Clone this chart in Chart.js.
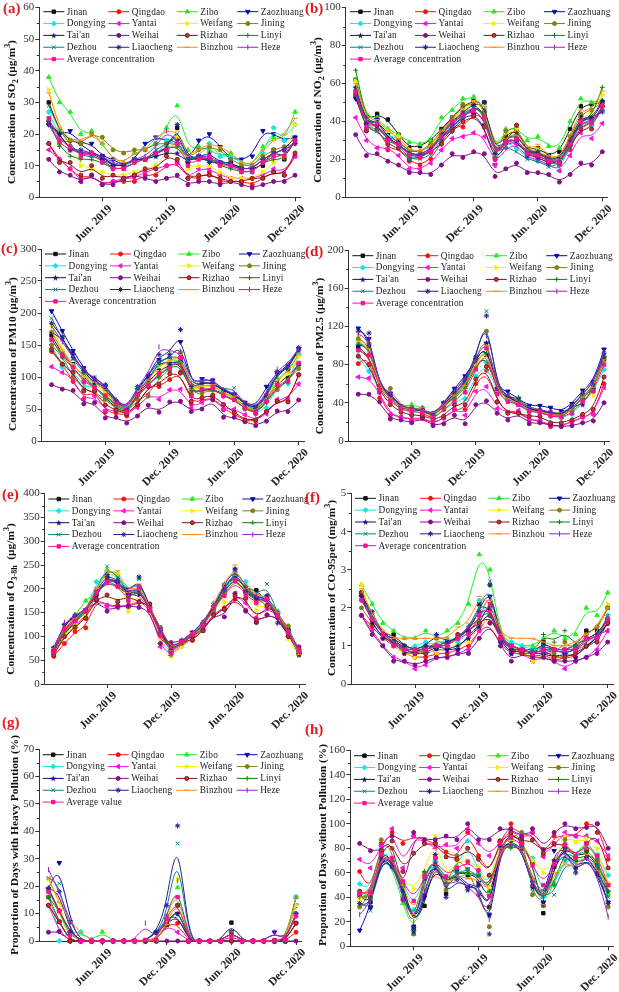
<!DOCTYPE html>
<html>
<head>
<meta charset="utf-8">
<title>Shandong air quality</title>
<script src="https://cdn.jsdelivr.net/npm/chart.js@4/dist/chart.umd.js"></script>
<style>
  html, body { margin: 0; padding: 0; background: #fff; }
  /* the reference is a soft, upscaled scan */
  #page { position: relative; width: 619px; height: 992px; overflow: hidden; background: #fff; filter: blur(0.35px); }
  canvas { position: absolute; }
  .ytitle, .letter { position: absolute; white-space: nowrap; font-family: "Liberation Serif", serif; }
  .ytitle { font-weight: bold; font-size: 11.4px; color: #111; transform: translate(-50%, -50%) rotate(-90deg); }
  .ytitle sub, .ytitle sup { font-size: 70%; line-height: 0; }
  .letter { color: #e8191c; font-size: 15px; font-weight: bold; transform: translateY(-50%); }
</style>
</head>
<body>
<div id="page"></div>
<script>
const cities = ["Jinan","Qingdao","Zibo","Zaozhuang","Dongying","Yantai","Weifang","Jining","Tai'an","Weihai","Rizhao","Linyi","Dezhou","Liaocheng","Binzhou","Heze"];
const tickLabels = {5:"Jun. 2019", 11:"Dec. 2019", 17:"Jun. 2020", 23:"Dec. 2020"};
const months = [0,1,2,3,4,5,6,7,8,9,10,11,12,13,14,15,16,17,18,19,20,21,22,23];

// (a) SO2
const so2Jinan=[30,21,18,17,14,13,10,10,12,12,14,15,22,11,13,12,11,11,9,9,10,15,12,18];
const so2Qingdao=[17,12,9,6,7,4,5,5,5,7,7,10,11,6,6,8,5,5,5,4,6,8,7,13];
const so2Zibo=[38,30,27,20,21,17,12,11,14,15,17,22,29,15,16,15,13,14,11,10,16,19,18,27];
const so2Zaozhuang=[23,20,21,17,17,13,12,10,12,17,19,18,18,11,18,20,16,12,12,13,21,20,18,19];
const so2Dongying=[27,19,16,14,13,12,9,9,12,12,13,18,17,12,13,17,13,13,11,9,14,22,18,23];
const so2Yantai=[15,12,9,5,7,4,5,6,6,8,9,10,11,6,9,9,7,6,6,6,7,9,8,13];
const so2Weifang=[34,21,16,10,9,8,7,7,8,9,10,14,19,9,10,10,8,6,6,6,8,11,13,23];
const so2Jining=[24,17,18,17,20,19,15,14,15,15,17,17,17,12,15,16,15,12,10,10,13,15,16,17];
const so2Taian=[24,20,15,14,14,13,10,10,12,12,13,14,14,11,13,14,11,11,9,9,12,14,15,19];
const so2Weihai=[12,8,7,5,7,4,4,6,7,6,5,6,7,4,5,5,4,5,4,3,4,5,5,7];
const so2Rizhao=[17,11,11,7,10,6,7,6,7,9,9,13,12,6,7,7,6,5,5,6,6,8,7,14];
const so2Linyi=[24,16,13,12,12,11,9,9,11,12,14,16,16,12,12,12,10,9,8,8,11,12,12,18];
const so2Dezhou=[29,21,17,13,13,12,9,9,11,12,15,17,20,12,12,12,11,11,8,8,11,13,13,18];
const so2Liaocheng=[23,20,15,15,14,12,10,10,12,12,14,15,23,12,13,11,11,10,9,9,12,14,15,17];
const so2Binzhou=[33,22,18,18,20,17,12,11,14,15,19,21,21,13,15,17,16,14,11,10,15,18,20,25];
const so2Heze=[23,17,15,14,14,13,11,10,12,13,16,21,18,12,13,13,11,10,9,9,12,14,15,17];
const so2Average=[25,18,16,13,14,11,9,9,11,12,14,15,17,10,12,13,10,10,8,8,11,13,13,18];

// (b) NO2
const no2Jinan=[62,40,44,41,33,26,27,30,36,42,48,51,50,24,33,36,25,26,22,24,36,48,49,50];
const no2Qingdao=[53,35,38,25,26,19,17,20,29,37,37,44,43,21,29,31,23,21,18,17,25,38,38,48];
const no2Zibo=[62,42,42,36,33,29,28,30,42,46,52,53,48,24,36,37,30,32,27,26,40,52,50,51];
const no2Zaozhuang=[52,38,41,33,29,24,24,27,32,35,42,44,38,17,29,29,23,24,19,18,27,42,40,50];
const no2Dongying=[58,37,36,32,32,21,21,24,33,39,43,48,45,21,30,26,21,19,17,14,27,40,38,46];
const no2Yantai=[42,30,26,26,22,15,15,18,25,31,32,34,32,17,26,28,21,20,17,14,22,34,31,39];
const no2Weifang=[61,40,40,35,32,25,24,26,34,40,46,50,48,24,34,36,25,25,21,20,32,42,44,54];
const no2Jining=[55,36,39,31,30,24,24,28,35,42,49,49,45,23,35,38,25,24,21,20,32,44,46,50];
const no2Taian=[58,39,41,31,28,23,22,26,31,38,42,48,46,21,31,34,24,24,20,20,30,43,41,51];
const no2Weihai=[33,22,23,19,17,13,13,12,17,23,21,24,23,11,15,18,13,13,12,8,12,18,17,24];
const no2Rizhao=[54,35,36,28,26,20,21,24,28,35,40,43,37,20,30,38,23,22,19,18,27,36,36,48];
const no2Linyi=[67,40,38,30,28,23,22,24,35,40,44,48,44,22,31,33,24,23,20,19,30,41,42,58];
const no2Dezhou=[54,36,35,29,28,20,20,22,31,37,42,47,46,22,27,24,20,19,16,17,27,38,39,47];
const no2Liaocheng=[56,39,38,30,29,22,22,24,33,40,45,49,50,23,31,30,22,21,18,18,29,41,42,45];
const no2Binzhou=[60,41,41,35,31,25,24,27,35,41,47,51,48,22,31,35,25,28,22,20,33,46,46,56];
const no2Heze=[55,38,39,30,28,22,23,25,32,38,44,46,42,21,30,31,23,23,20,18,28,40,40,46];
const no2Average=[56,37,39,30,28,22,21,24,32,40,43,46,42,20,29,31,23,22,19,18,28,40,39,48];

// (c) PM10
const pm10Jinan=[165,135,120,100,85,67,52,42,72,92,110,118,125,72,80,80,75,68,52,46,65,90,100,120];
const pm10Qingdao=[140,120,93,66,80,45,44,39,55,86,85,96,108,58,64,68,49,43,31,31,46,62,62,103];
const pm10Zibo=[170,140,118,102,95,78,58,46,76,96,120,125,130,78,85,88,72,70,53,47,70,98,108,135];
const pm10Zaozhuang=[203,172,141,114,92,85,62,48,80,102,127,128,155,87,97,95,80,73,60,53,85,107,117,144];
const pm10Dongying=[150,115,110,85,85,70,55,44,70,88,100,120,130,78,85,90,70,66,52,42,52,85,90,135];
const pm10Yantai=[116,107,98,64,70,48,47,43,52,73,65,80,81,52,60,70,50,50,41,32,42,65,67,89];
const pm10Weifang=[180,143,118,100,90,75,55,44,70,90,107,125,140,75,85,88,73,70,50,43,65,88,105,132];
const pm10Jining=[150,132,100,80,77,65,50,43,65,70,100,110,138,72,75,80,72,65,50,44,62,80,95,113];
const pm10Taian=[170,160,135,108,90,82,60,45,75,95,125,120,128,80,92,90,78,72,57,50,70,105,113,142];
const pm10Weihai=[88,81,79,58,60,36,37,28,39,56,45,61,62,46,50,64,37,37,30,24,31,47,46,64];
const pm10Rizhao=[143,120,107,78,78,56,48,42,57,85,89,105,106,62,68,72,57,45,33,33,46,62,61,104];
const pm10Linyi=[160,130,115,95,85,70,55,44,70,88,103,115,120,75,80,82,70,65,50,42,60,85,92,120];
const pm10Dezhou=[192,160,128,105,100,85,60,48,80,95,125,130,135,85,93,90,80,83,55,48,68,105,115,143];
const pm10Liaocheng=[184,163,130,110,98,88,63,50,85,100,135,135,174,85,90,92,78,73,58,51,72,108,112,146];
const pm10Binzhou=[172,140,120,100,92,80,58,46,78,95,118,125,135,80,87,88,75,70,53,45,65,95,108,137];
const pm10Heze=[180,155,130,112,95,85,65,50,85,105,147,140,140,90,95,95,80,75,60,52,75,112,120,145];
const pm10Average=[158,135,115,92,84,71,58,45,72,87,106,114,130,70,81,84,70,64,51,43,62,88,93,122];

// (d) PM2.5
const pm25Jinan=[98,90,57,45,34,33,32,26,36,47,58,80,90,53,45,40,33,31,28,26,34,46,57,85];
const pm25Qingdao=[81,90,45,27,25,22,24,18,24,33,33,60,74,41,30,30,22,21,15,16,20,25,28,60];
const pm25Zibo=[102,98,58,48,36,38,35,25,38,48,60,82,100,55,46,42,34,33,30,28,36,50,60,90];
const pm25Zaozhuang=[118,107,57,50,35,33,34,27,40,55,68,85,102,55,52,44,37,37,35,31,39,53,62,96];
const pm25Dongying=[88,73,55,42,33,30,30,24,33,40,44,68,82,50,42,38,30,30,26,24,28,40,52,75];
const pm25Yantai=[67,66,50,28,25,23,25,18,24,34,27,52,57,34,30,32,22,22,16,16,20,25,28,56];
const pm25Weifang=[110,95,55,42,33,31,30,25,34,45,55,78,100,52,43,40,32,31,27,25,33,42,48,82];
const pm25Jining=[107,102,52,55,36,35,33,27,38,50,60,85,115,52,45,40,33,32,30,28,36,48,55,87];
const pm25Taian=[100,100,56,48,35,33,32,26,38,50,62,85,103,52,46,40,33,32,30,27,36,38,55,88];
const pm25Weihai=[49,49,41,23,22,19,24,16,18,27,18,38,42,29,22,29,18,19,17,15,16,19,21,40];
const pm25Rizhao=[89,80,52,38,30,27,27,22,26,38,38,65,78,41,29,29,26,26,19,19,22,28,33,67];
const pm25Linyi=[95,90,57,45,34,33,32,25,37,45,55,78,92,50,45,46,33,32,28,25,33,45,54,85];
const pm25Dezhou=[102,100,55,45,35,33,32,25,38,45,60,85,136,52,44,38,32,30,26,25,33,45,55,90];
const pm25Liaocheng=[115,113,55,48,36,33,33,27,40,52,65,88,131,55,47,40,33,32,30,27,36,50,60,92];
const pm25Binzhou=[105,97,56,45,35,33,35,26,38,48,58,80,100,52,44,40,32,30,28,26,33,46,56,85];
const pm25Heze=[112,107,57,50,36,34,33,27,40,52,65,85,110,55,48,42,35,33,30,28,36,50,60,93];
const pm25Average=[95,90,53,42,33,31,30,22,33,42,51,75,97,49,41,38,31,30,26,25,29,42,52,80];

// (e) O3-8h
const o3Jinan=[70,105,130,150,190,225,215,190,205,155,115,70,85,105,125,160,205,228,200,197,175,150,115,65];
const o3Qingdao=[58,85,110,118,178,165,165,162,172,168,103,67,85,92,112,148,160,178,155,130,145,140,105,65];
const o3Zibo=[72,110,145,175,195,240,232,190,222,160,115,70,88,108,130,165,200,237,195,185,185,150,110,65];
const o3Zaozhuang=[75,115,140,155,185,222,212,185,190,155,110,68,90,108,125,155,195,225,190,180,175,140,110,62];
const o3Dongying=[68,115,130,150,215,235,225,190,205,160,85,65,85,100,125,170,200,225,215,185,185,153,105,60];
const o3Yantai=[63,100,120,145,180,165,160,165,175,160,78,60,80,95,115,150,155,190,170,140,160,145,100,68];
const o3Weifang=[62,105,125,145,195,235,230,152,195,155,95,58,78,95,120,160,172,230,195,155,170,140,95,60];
const o3Jining=[68,100,118,138,190,215,205,190,200,155,105,62,85,100,120,155,190,220,195,180,165,145,122,68];
const o3Taian=[77,125,145,155,185,226,213,188,195,160,112,72,90,108,128,162,210,243,205,178,185,148,108,62];
const o3Weihai=[65,115,135,155,175,153,162,165,161,155,85,87,90,100,115,145,141,190,153,129,145,140,100,78];
const o3Rizhao=[60,100,120,138,178,187,173,185,172,168,105,78,88,92,112,145,157,185,180,135,165,148,100,72];
const o3Linyi=[70,110,130,155,190,220,205,185,200,160,108,68,88,102,122,160,195,225,190,175,180,150,108,68];
const o3Dezhou=[72,120,135,155,200,247,225,190,220,158,120,70,88,105,130,165,205,230,200,185,210,145,110,62];
const o3Liaocheng=[70,125,142,155,195,230,218,190,225,160,118,70,92,108,125,165,200,240,195,180,185,128,108,62];
const o3Binzhou=[75,120,138,155,200,238,238,192,210,160,120,70,90,108,125,170,210,250,200,190,180,150,110,62];
const o3Heze=[72,130,145,155,190,225,215,190,205,158,115,75,90,108,130,165,200,235,195,185,175,145,108,75];
const o3Average=[67,115,133,152,193,213,205,175,203,158,102,65,88,103,122,162,185,217,187,170,180,143,108,70];

// (f) CO-95per
const coJinan=[2.4,1.7,1.3,1.3,1.0,0.9,0.9,1.0,1.1,1.2,1.4,2.1,2.0,1.2,0.9,0.9,0.8,1.1,0.9,0.9,1.0,1.4,1.4,2.0];
const coQingdao=[1.8,1.5,1.2,1.0,0.8,0.7,0.7,0.8,0.8,0.9,1.0,1.4,1.6,1.0,0.8,0.8,0.7,0.8,0.6,0.7,0.7,1.0,1.2,1.7];
const coZibo=[2.6,2.1,1.6,1.4,1.2,1.2,1.4,1.2,1.4,1.6,2.1,3.4,3.0,1.2,1.1,1.0,1.0,1.2,1.4,1.2,1.3,2.0,1.8,2.4];
const coZaozhuang=[2.3,1.7,1.3,1.1,0.9,0.8,0.8,0.9,0.9,0.9,1.3,1.5,2.3,1.2,1.0,0.9,0.8,1.0,0.9,0.9,0.9,1.0,1.2,1.6];
const coDongying=[2.2,1.8,1.3,1.0,0.9,1.0,1.1,1.0,1.2,1.1,1.3,2.2,1.8,1.1,1.1,1.0,0.9,0.9,0.9,0.8,0.9,1.2,1.1,1.8];
const coYantai=[1.8,1.4,1.0,0.7,0.6,0.4,0.5,0.7,0.7,0.8,0.9,1.4,1.9,1.1,0.8,0.8,0.6,0.7,0.6,0.4,0.6,0.7,0.9,1.4];
const coWeifang=[2.6,1.7,1.3,1.0,0.8,0.7,0.9,0.8,1.0,1.0,1.1,1.5,1.8,1.2,0.9,0.9,0.6,0.8,0.7,0.7,0.8,1.1,1.3,2.1];
const coJining=[2.0,1.6,1.2,1.1,1.0,0.9,0.8,1.2,1.0,1.3,1.4,1.6,2.6,1.2,1.0,0.9,0.8,0.8,0.8,1.1,0.9,1.3,1.5,2.0];
const coTaian=[2.3,1.6,1.2,1.1,0.8,0.8,1.0,1.0,0.9,1.0,1.2,1.5,2.0,1.1,0.8,0.9,0.8,0.8,0.7,0.8,0.7,1.0,1.2,1.6];
const coWeihai=[1.8,1.3,1.0,0.6,0.6,0.5,0.6,0.7,0.7,0.8,0.8,1.2,1.6,1.0,0.6,0.8,0.7,0.7,0.6,0.6,0.6,0.7,0.8,1.1];
const coRizhao=[2.4,1.7,1.3,1.2,0.9,0.8,0.8,1.0,1.0,1.3,1.4,1.6,1.8,1.2,0.9,0.8,0.8,0.9,0.7,0.7,0.8,1.0,1.1,1.6];
const coLinyi=[2.2,1.7,1.3,1.1,0.9,0.9,1.0,1.0,1.0,1.2,1.5,1.7,2.0,1.1,1.0,0.9,0.8,1.3,1.1,1.4,1.0,1.2,1.3,1.7];
const coDezhou=[2.3,1.8,1.3,1.1,0.9,0.9,0.9,1.0,1.1,1.2,1.5,2.0,2.7,1.1,1.0,0.9,0.9,1.0,0.9,0.9,1.0,1.2,1.2,1.8];
const coLiaocheng=[2.3,1.9,1.3,1.2,1.0,0.9,1.0,1.3,1.1,1.2,1.4,1.9,2.6,1.1,0.9,0.9,0.8,0.9,0.9,0.8,0.9,1.2,1.3,1.7];
const coBinzhou=[2.5,1.8,1.4,1.2,1.2,1.2,1.2,1.2,1.2,1.5,1.6,2.3,2.2,1.3,1.2,1.2,1.2,1.1,1.0,1.0,1.1,1.3,1.5,2.0];
const coHeze=[2.2,1.7,1.3,1.1,0.9,0.8,0.9,1.0,1.0,1.2,1.5,1.9,2.0,1.1,1.0,0.9,0.8,0.8,0.9,0.8,0.9,1.1,1.3,1.4];
const coAverage=[2.2,1.7,1.3,1.0,0.9,0.9,0.9,1.0,1.0,1.2,1.3,1.8,2.1,1.2,1.0,0.9,0.8,0.9,0.9,0.9,0.9,1.2,1.2,1.7];

// (g) days with heavy pollution
const heavyJinan=[16,7,0,0,0,0,0,0,0,0,0,6,13,0,0,0,0,6.7,0,0,0,0,0,6.5];
const heavyQingdao=[13,7,0,0,0,0,0,0,0,0,0,6,6.5,0,0,0,0,0,0,0,0,0,0,3.2];
const heavyZibo=[19.5,11,0,3.3,0,3.3,0,0,0,0,0,9,19.5,0,0,0,0,0,0,0,0,0,0,16];
const heavyZaozhuang=[19,28.5,7,0,0,0,0,0,0,0,3,8,10,0,0,0,0,3.3,0,0,0,3.2,0,13];
const heavyDongying=[19,0,3.3,3.3,0,0,0,0,0,0,0,6,13,0,0,0,0,0,0,0,0,0,0,16];
const heavyYantai=[13,3.5,0,0,0,0,0,0,0,0,0,6,3.2,0,0,0,0,0,0,0,0,0,0,9.5];
const heavyWeifang=[22.5,14,0,0,0,0,0,0,0,0,0,6,22.5,0,0,0,0,3.3,0,0,0,0,0,13];
const heavyJining=[16,7,0,0,0,0,0,0,0,0,0,6,13,0,0,0,0,3.3,0,0,0,0,0,6.5];
const heavyTaian=[19,11,3.3,0,0,0,0,0,0,0,3.2,6,10,0,0,0,0,3.3,0,0,0,0,0,10];
const heavyWeihai=[3.2,3.5,0,0,0,0,0,0,0,0,0,0,0,0,0,0,0,0,0,0,0,0,0,0];
const heavyRizhao=[13,7,0,0,0,0,0,0,0,0,0,6,13,0,0,0,0,0,0,0,0,0,0,6.5];
const heavyLinyi=[16,11,3.3,0,0,0,0,0,0,0,0,6,13,0,0,0,0,3.3,0,0,0,0,0,10];
const heavyDezhou=[23,21,3.3,0,0,0,0,0,0,0,3.2,9,35.5,0,0,0,0,3.3,0,0,0,0,0,16];
const heavyLiaocheng=[19,18,3.3,0,0,0,0,0,0,0,3.2,13,42,0,0,0,0,3.3,0,0,0,0,0,10];
const heavyBinzhou=[23,14,7,3.3,0,0,0,0,0,0,0,6,16,0,0,0,0,3.3,0,0,0,0,0,16];
const heavyHeze=[26,18,7,0,0,0,0,0,0,6.5,0,9,22,0,0,0,0,3.3,0,0,0,3.2,0,10];
const heavyAverage=[18,11,2,0,0,0,0,0,0,0.4,0.4,8,16,0,0,0,0,1.7,0,0,0,0.3,0.6,9];

// (h) days without pollution
const cleanJinan=[42,36,80,70,52,16,33,72,43,62,58,58,32,83,92,86,68,27,65,82,72,78,66,50];
const cleanQingdao=[61,43,84,93,84,90,87,84,77,71,93,74,58,86,100,90,93,74,90,90,90,100,100,71];
const cleanZibo=[43,39,75,65,35,10,42,70,55,55,60,60,45,80,82,85,50,33,52,72,72,90,70,42];
const cleanZaozhuang=[13,32,75,68,50,13,40,65,50,62,48,52,26,82,85,82,52,36,78,80,63,72,58,36];
const cleanDongying=[51,45,80,72,53,30,58,70,50,65,86,60,48,85,88,84,72,40,50,71,70,85,75,58];
const cleanYantai=[71,64,82,96,64,90,85,80,83,80,96,84,74,85,96,88,93,73,83,93,90,90,86,74];
const cleanWeifang=[38,42,75,72,53,47,60,90,55,70,70,65,48,85,87,85,70,60,68,90,85,88,80,52];
const cleanJining=[32,42,87,80,40,10,60,73,46,74,63,42,16,82,90,93,42,33,70,87,72,80,70,32];
const cleanTaian=[42,32,75,65,50,12,55,68,50,60,46,50,25,85,83,80,48,36,70,80,65,75,60,45];
const cleanWeihai=[84,78,78,90,38,93,87,87,90,87,100,87,87,96,96,89,96,79,93,100,96,97,100,80];
const cleanRizhao=[45,40,78,86,61,76,84,84,73,71,80,71,58,86,93,85,87,76,84,83,73,84,93,64];
const cleanLinyi=[40,40,76,70,48,16,61,72,52,61,60,58,45,82,80,82,55,42,50,80,70,75,72,45];
const cleanDezhou=[35,29,72,65,50,13,55,70,50,60,63,58,42,80,83,82,45,42,42,70,62,75,66,40];
const cleanLiaocheng=[35,32,72,66,45,16,42,75,40,55,48,50,10,82,84,80,50,34,65,78,60,72,62,35];
const cleanBinzhou=[40,42,75,72,50,26,50,60,50,58,55,55,42,80,84,80,55,34,60,68,66,75,62,50];
const cleanHeze=[26,35,75,70,38,20,45,70,48,55,48,42,22,78,84,80,50,40,68,80,60,72,58,24];
const cleanAverage=[43,44,75,72,53,37,57,72,57,64,69,62,41,84,89,84,66,50,67,83,73,84,74,50];

// filled five point star, chart.js "star" is the asterisk we use for Liaocheng
function makeStar(color) {
  const c = document.createElement("canvas");
  c.width = 7; c.height = 7;
  const g = c.getContext("2d");
  g.fillStyle = color;
  g.beginPath();
  for (let i = 0; i < 10; i++) {
    const r = i % 2 ? 1.3 : 3.2;
    const a = -Math.PI / 2 + i * Math.PI / 5;
    g.lineTo(3.5 + r * Math.cos(a), 3.8 + r * Math.sin(a));
  }
  g.closePath();
  g.fill();
  return c;
}

const styles = [
  {color:"#111111", fill:"#111111", point:"rect", r:2.4},
  {color:"#ff1010", fill:"#ff1010", point:"circle", r:2},
  {color:"#22ee22", fill:"#22ee22", point:"triangle", r:2.6},
  {color:"#0a0ab0", fill:"#0a0ab0", point:"triangle", r:2.6, rot:180},
  {color:"#10e8e8", fill:"#10e8e8", point:"rectRot", r:2.5},
  {color:"#ff10e0", fill:"#ff10e0", point:"triangle", r:2.6, rot:-90},
  {color:"#f2f200", fill:"#f2f200", point:"triangle", r:2.6, rot:90},
  {color:"#808018", fill:"#808018", point:"circle", r:2},
  {color:"#101080", fill:"#101080", point:makeStar("#101080"), r:3},
  {color:"#85108a", fill:"#85108a", point:"circle", r:2},
  {color:"#8a1010", fill:"#b04040", point:"circle", r:2},
  {color:"#108010", fill:"#108010", point:"cross", r:2.4},
  {color:"#108080", fill:"#108080", point:"crossRot", r:2.6},
  {color:"#20208a", fill:"#20208a", point:"star", r:2.6},
  {color:"#ff8a10", fill:"#ff8a10", point:"line", r:2.6},
  {color:"#9a20c8", fill:"#9a20c8", point:"line", r:2.6, rot:90},
  {color:"#ff1090", fill:"#ff1090", point:"rect", r:2.4}
];

// lines in the original are b-splines, they do not go through the markers
const bsplineLines = {
  id: "bsplineLines",
  beforeDatasetDraw(chart, args) {
    const pts = args.meta.data;
    const n = pts.length;
    const at = (i, k) => i < 0 ? 2 * pts[0][k] - pts[1][k] : i >= n ? 2 * pts[n - 1][k] - pts[n - 2][k] : pts[i][k];
    const knot = (i, k) => (at(i - 1, k) + 4 * at(i, k) + at(i + 1, k)) / 6;
    const ctx = chart.ctx;
    ctx.save();
    ctx.strokeStyle = chart.data.datasets[args.index].borderColor;
    ctx.lineWidth = 1;
    ctx.beginPath();
    ctx.moveTo(knot(0, "x"), knot(0, "y"));
    for (let i = 0; i < n - 1; i++) {
      ctx.bezierCurveTo(
        (2 * at(i, "x") + at(i + 1, "x")) / 3, (2 * at(i, "y") + at(i + 1, "y")) / 3,
        (at(i, "x") + 2 * at(i + 1, "x")) / 3, (at(i, "y") + 2 * at(i + 1, "y")) / 3,
        knot(i + 1, "x"), knot(i + 1, "y"));
    }
    ctx.stroke();
    ctx.restore();
  }
};

const minorTicks = {
  id: "minorTicks",
  afterDraw(chart) {
    const ctx = chart.ctx, xs = chart.scales.x, ys = chart.scales.y;
    const step = chart.options.scales.y.ticks.stepSize;
    ctx.save();
    ctx.strokeStyle = "#333";
    ctx.lineWidth = 1;
    ctx.beginPath();
    for (let v = step / 2; v < ys.max; v += step) {
      const y = Math.round(ys.getPixelForValue(v)) + 0.5;
      ctx.moveTo(xs.left, y);
      ctx.lineTo(xs.left - 2.5, y);
    }
    ctx.stroke();
    ctx.restore();
  }
};

const legendCols = [0, 65, 133.5, 194];
const lineLegend = {
  id: "lineLegend",
  afterDraw(chart, args, opts) {
    const ctx = chart.ctx;
    ctx.save();
    ctx.font = '9.3px "Liberation Serif"';
    ctx.letterSpacing = "0.2px";
    ctx.textBaseline = "middle";
    chart.data.datasets.forEach((ds, i) => {
      const x = opts.x + legendCols[i % 4];
      const y = opts.y + Math.floor(i / 4) * 11.85;
      ctx.strokeStyle = ds.borderColor;
      ctx.lineWidth = 1;
      ctx.beginPath();
      ctx.moveTo(x, y);
      ctx.lineTo(x + 21, y);
      ctx.stroke();
      ctx.fillStyle = ds.pointBackgroundColor;
      ctx.strokeStyle = ds.borderColor;
      Chart.helpers.drawPoint(ctx, {pointStyle: ds.pointStyle, rotation: ds.pointRotation, radius: ds.pointRadius, borderWidth: 1}, x + 10.5, y);
      ctx.fillStyle = "#222";
      ctx.fillText(ds.label, x + 23.5, y + 0.5);
    });
    ctx.restore();
  }
};

Chart.defaults.font.family = '"Liberation Serif", serif';
Chart.defaults.animation = false;

const page = document.getElementById("page");

function addPanel(p) {
  const c = document.createElement("canvas");
  c.width = p.w; c.height = p.h;
  c.style.left = p.left + "px";
  c.style.top = p.top + "px";
  page.appendChild(c);

  const spacing = (p.lastX - p.junX) / 18;
  const datasets = p.series.map((values, i) => {
    const s = styles[i];
    return {
      label: i < 16 ? cities[i] : p.averageLabel,
      data: values,
      showLine: false,
      clip: false,
      order: 17 - i,
      borderColor: s.color,
      pointBackgroundColor: s.fill,
      pointBorderColor: s.color,
      pointBorderWidth: 1,
      pointStyle: s.point,
      pointRotation: s.rot || 0,
      pointRadius: s.r
    };
  });

  new Chart(c, {
    type: "line",
    data: {labels: months, datasets},
    options: {
      responsive: false,
      layout: {padding: {top: p.yTop - p.top, right: p.left + p.w - p.right, left: 0, bottom: 0}},
      plugins: {
        legend: {display: false},
        tooltip: {enabled: false},
        lineLegend: {x: p.legendX - p.left, y: p.legendY - p.top}
      },
      scales: {
        x: {
          type: "linear",
          min: 5 - (p.junX - p.axisX) / spacing,
          max: 23 + (p.right - p.lastX) / spacing,
          afterBuildTicks: s => { s.ticks = [5, 11, 17, 23].map(v => ({value: v})); },
          afterFit: s => { s.height = p.top + p.h - p.y0; },
          grid: {drawOnChartArea: false, tickLength: 4, tickColor: "#333"},
          border: {color: "#333"},
          ticks: {
            minRotation: 45, maxRotation: 45, labelOffset: 8, padding: 1, autoSkip: false,
            color: "#222", font: {size: 11.5, weight: "bold"},
            callback: v => tickLabels[v]
          }
        },
        y: {
          min: 0, max: p.yMax,
          afterFit: s => { s.width = p.axisX - p.left; },
          grid: {drawOnChartArea: false, tickLength: 4, tickColor: "#333"},
          border: {color: "#333"},
          ticks: {stepSize: p.yStep, padding: 1, color: "#333", font: {size: 11}}
        }
      }
    },
    plugins: [bsplineLines, minorTicks, lineLegend]
  });

  const t = document.createElement("div");
  t.className = "ytitle";
  t.innerHTML = p.title;
  t.style.left = p.titleX + "px";
  t.style.top = p.titleY + "px";
  page.appendChild(t);

  const l = document.createElement("div");
  l.className = "letter";
  l.textContent = p.letter;
  l.style.left = p.letterX + "px";
  l.style.top = p.letterY + "px";
  page.appendChild(l);
}

const so2Series=[so2Jinan,so2Qingdao,so2Zibo,so2Zaozhuang,so2Dongying,so2Yantai,so2Weifang,so2Jining,so2Taian,so2Weihai,so2Rizhao,so2Linyi,so2Dezhou,so2Liaocheng,so2Binzhou,so2Heze,so2Average];
const no2Series=[no2Jinan,no2Qingdao,no2Zibo,no2Zaozhuang,no2Dongying,no2Yantai,no2Weifang,no2Jining,no2Taian,no2Weihai,no2Rizhao,no2Linyi,no2Dezhou,no2Liaocheng,no2Binzhou,no2Heze,no2Average];
const pm10Series=[pm10Jinan,pm10Qingdao,pm10Zibo,pm10Zaozhuang,pm10Dongying,pm10Yantai,pm10Weifang,pm10Jining,pm10Taian,pm10Weihai,pm10Rizhao,pm10Linyi,pm10Dezhou,pm10Liaocheng,pm10Binzhou,pm10Heze,pm10Average];
const pm25Series=[pm25Jinan,pm25Qingdao,pm25Zibo,pm25Zaozhuang,pm25Dongying,pm25Yantai,pm25Weifang,pm25Jining,pm25Taian,pm25Weihai,pm25Rizhao,pm25Linyi,pm25Dezhou,pm25Liaocheng,pm25Binzhou,pm25Heze,pm25Average];
const o3Series=[o3Jinan,o3Qingdao,o3Zibo,o3Zaozhuang,o3Dongying,o3Yantai,o3Weifang,o3Jining,o3Taian,o3Weihai,o3Rizhao,o3Linyi,o3Dezhou,o3Liaocheng,o3Binzhou,o3Heze,o3Average];
const coSeries=[coJinan,coQingdao,coZibo,coZaozhuang,coDongying,coYantai,coWeifang,coJining,coTaian,coWeihai,coRizhao,coLinyi,coDezhou,coLiaocheng,coBinzhou,coHeze,coAverage];
const heavySeries=[heavyJinan,heavyQingdao,heavyZibo,heavyZaozhuang,heavyDongying,heavyYantai,heavyWeifang,heavyJining,heavyTaian,heavyWeihai,heavyRizhao,heavyLinyi,heavyDezhou,heavyLiaocheng,heavyBinzhou,heavyHeze,heavyAverage];
const cleanSeries=[cleanJinan,cleanQingdao,cleanZibo,cleanZaozhuang,cleanDongying,cleanYantai,cleanWeifang,cleanJining,cleanTaian,cleanWeihai,cleanRizhao,cleanLinyi,cleanDezhou,cleanLiaocheng,cleanBinzhou,cleanHeze,cleanAverage];

const conc = "Average concentration", val = "Average value";
addPanel({letter:"(a)", letterX:3, letterY:8, title:'Concentration of SO<sub>2</sub> (μg/m<sup>3</sup>)', titleX:11, titleY:112,
  series:so2Series, averageLabel:conc, yMax:60, yStep:10, left:0, top:0, w:310, h:245,
  axisX:39.3, right:300, yTop:6, y0:197.3, junX:102.3, lastX:295, legendX:43.3, legendY:11.7});
addPanel({letter:"(b)", letterX:305, letterY:8, title:'Concentration of NO<sub>2</sub> (μg/m<sup>3</sup>)', titleX:317, titleY:110,
  series:no2Series, averageLabel:conc, yMax:100, yStep:20, left:308, top:0, w:311, h:245,
  axisX:345.7, right:607.7, yTop:6, y0:197.3, junX:409.3, lastX:602.3, legendX:350, legendY:11.7});
addPanel({letter:"(c)", letterX:1, letterY:248, title:'Concentration of PM10 (μg/m<sup>3</sup>)', titleX:12, titleY:354,
  series:pm10Series, averageLabel:conc, yMax:300, yStep:50, left:0, top:241, w:310, h:248,
  axisX:41.7, right:304, yTop:249, y0:441, junX:105.3, lastX:298.7, legendX:45, legendY:254});
addPanel({letter:"(d)", letterX:305, letterY:251, title:'Concentration of PM2.5 (μg/m<sup>3</sup>)', titleX:319, titleY:356,
  series:pm25Series, averageLabel:conc, yMax:200, yStep:40, left:308, top:241, w:311, h:248,
  axisX:348.7, right:609, yTop:250, y0:441, junX:411.7, lastX:604, legendX:352.3, legendY:255.7});
addPanel({letter:"(e)", letterX:2, letterY:494, title:'Concentration of O<sub>3-8h</sub> &nbsp;(μg/m<sup>3</sup>)', titleX:10, titleY:599,
  series:o3Series, averageLabel:conc, yMax:400, yStep:50, left:0, top:486, w:310, h:248,
  axisX:44.7, right:306, yTop:493.3, y0:684, junX:107.3, lastX:300, legendX:48.3, legendY:499});
addPanel({letter:"(f)", letterX:305, letterY:497, title:'Concentration of CO-95per (mg/m<sup>3</sup>)', titleX:331, titleY:588,
  series:coSeries, averageLabel:conc, yMax:5, yStep:1, left:308, top:486, w:311, h:248,
  axisX:351.3, right:613, yTop:492.3, y0:684, junX:415, lastX:607.7, legendX:355, legendY:498.3});
addPanel({letter:"(g)", letterX:2, letterY:722, title:'Proportion of Days with Heavy Pollution (%)', titleX:14, titleY:845,
  series:heavySeries, averageLabel:val, yMax:70, yStep:10, left:0, top:741, w:310, h:251,
  axisX:39.3, right:301.7, yTop:749, y0:941, junX:102.3, lastX:296, legendX:42.7, legendY:754.7});
addPanel({letter:"(h)", letterX:305, letterY:729, title:'Proportion of Days without Pollution (%)', titleX:322, titleY:845,
  series:cleanSeries, averageLabel:val, yMax:160, yStep:20, left:308, top:741, w:311, h:251,
  axisX:350.3, right:617.3, yTop:750.3, y0:946.3, junX:414.7, lastX:612.3, legendX:354, legendY:755.7});
</script>
</body>
</html>
